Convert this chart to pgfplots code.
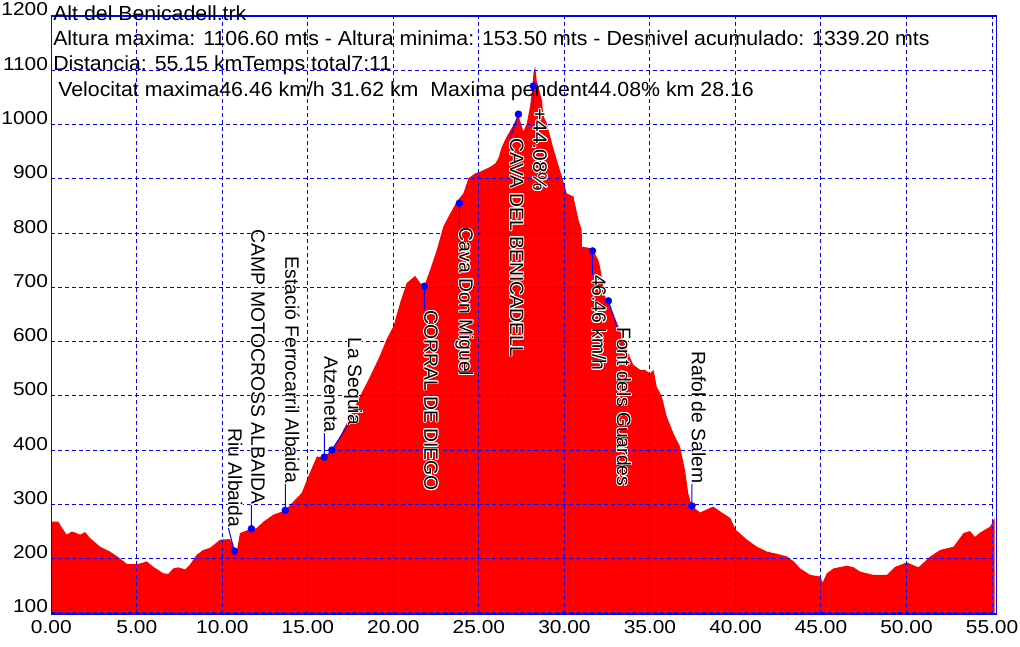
\documentclass[border=0pt]{standalone}
\usepackage{fontspec}
\setmainfont{Liberation Sans}
\usepackage{pgfplots}
\pgfplotsset{compat=1.18}
\usepackage{contour}
\contourlength{0.6pt}
\definecolor{profRed}{RGB}{255,0,0}
\definecolor{lineBlue}{RGB}{0,0,255}

% profile: distance (km) vs altitude (m)
\pgfplotstableread{
km elev
0.00 268
0.41 268
0.60 258
0.90 244
1.19 250
1.40 248
1.68 244
1.97 249
2.26 238
2.85 222
3.43 213
3.90 203
4.43 190
5.00 190
5.30 192
5.58 195
5.96 185
6.55 173
6.84 172
7.13 182
7.43 184
7.83 180
8.10 189
8.50 207
8.88 216
9.28 220
9.60 228
9.87 235
10.45 236
10.63 225
10.72 214
10.84 213
11.03 247
11.43 252
11.70 255
12.00 256
12.40 268
12.98 281
13.68 289
14.15 305
14.64 321
14.94 345
15.52 388
15.96 387
16.40 401
16.88 425
17.47 462
18.05 499
18.64 536
19.20 573
19.60 604
20.00 628
20.39 671
20.78 708
20.97 713
21.27 721
21.66 704
21.85 707
22.15 732
22.54 769
22.92 812
23.32 836
23.71 858
24.09 873
24.39 901
24.78 910
25.07 913
25.66 922
25.95 928
26.14 938
26.34 959
26.63 978
27.02 999
27.31 1017
27.60 987
27.80 1002
27.99 1033
28.10 1060
28.19 1095
28.29 1107
28.38 1080
28.48 1069
28.68 1045
28.77 1016
28.97 1002
29.06 991
29.36 955
29.85 904
30.14 873
30.53 867
30.82 824
31.01 806
31.02 775
31.59 772
31.98 750
32.08 738
32.37 683
32.76 658
33.25 621
33.73 578
34.03 557
34.42 548
34.71 548
35.00 541
35.20 548
35.29 535
35.39 517
35.69 499
35.98 462
36.37 431
36.76 406
37.05 363
37.24 320
37.45 297
37.93 285
38.70 296
39.10 287
39.69 275
40.02 253
40.67 235
41.25 222
41.84 213
42.42 209
43.01 204
43.40 195
43.78 182
44.37 170
44.95 167
45.10 156
45.34 173
45.73 182
46.51 187
46.90 184
47.29 176
48.07 170
48.85 170
49.34 185
50.02 193
50.70 184
51.39 204
51.97 216
52.75 222
53.33 247
53.70 251
54.00 240
54.30 248
54.89 259
55.15 275
}\profile

% waypoints
\pgfplotstableread{
km elev
10.70 214
11.70 255
13.68 289
15.96 387
16.40 400
21.81 702
23.86 855
27.31 1019
28.19 1071
31.64 767
32.57 675
37.45 297
}\waypoints

\begin{document}
\fontsize{14}{17}\selectfont
\begin{tikzpicture}
\path (0,0) rectangle (765pt,484.5pt);

% header text
\begin{scope}[every node/.style={anchor=base west, inner sep=0pt, xscale=1.045, font=\fontsize{15.3}{18}\selectfont}]
\node at (39.75pt,469pt) {Alt del Benicadell.trk};
\node at (39.75pt,450.2pt) {Altura maxima: 1106.60 mts - Altura minima: 153.50 mts - Desnivel acumulado: 1339.20 mts};
\node at (39.75pt,431.25pt) {Distancia: 55.15 kmTemps total7:11};
\node at (43.5pt,411.75pt) {Velocitat maxima46.46 km/h 31.62 km~~Maxima pendent44.08\% km 28.16};
\end{scope}

\begin{axis}[
    set layers=standard,
    at={(38.475pt,24pt)},
    anchor=south west,
    scale only axis,
    width=708.75pt,
    height=448.5pt,
    xmin=0, xmax=55.25,
    ymin=98, ymax=1200,
    xtick={0,5,...,55},
    ytick={100,200,...,1200},
    grid=major,
    grid style={lineBlue, line width=0.75pt, dash pattern=on 3pt off 2.25pt},
    axis line style={lineBlue, line width=1pt},
    tick style={draw=none},
    xticklabel style={anchor=north, inner sep=0pt, yshift=-4.5pt, xscale=1.12},
    yticklabel style={anchor=base east, inner sep=0pt, xshift=-2.25pt, xscale=1.12},
    x tick label style={/pgf/number format/.cd, fixed, fixed zerofill, precision=2},
    /pgf/number format/1000 sep={},
    /pgf/number format/assume math mode=true,
]

\addplot[fill=profRed, draw=none, on layer=axis background] table[x=km, y=elev] {\profile} \closedcycle;

% leader lines
\draw[lineBlue, line width=0.75pt]
    (axis cs:10.70,214) -- (axis cs:10.35,257)
    (axis cs:11.70,255) -- (axis cs:11.70,299)
    (axis cs:13.68,289) -- (axis cs:13.68,338)
    (axis cs:15.96,387) -- (axis cs:15.96,432)
    (axis cs:16.40,400) -- (axis cs:17.35,446)
    (axis cs:37.45,297) -- (axis cs:37.45,338)
    (axis cs:21.81,702) -- (axis cs:21.81,658)
    (axis cs:23.86,855) -- (axis cs:23.86,810)
    (axis cs:27.31,1019) -- (axis cs:26.82,975)
    (axis cs:28.19,1071) -- (axis cs:28.19,1030)
    (axis cs:31.64,767) -- (axis cs:31.64,723)
    (axis cs:32.57,675) -- (axis cs:33.08,627);

\addplot[only marks, mark=*, mark size=2.6pt, lineBlue, mark options={draw=none, fill=lineBlue}] table[x=km, y=elev] {\waypoints};

% labels above the point
\begin{scope}[every node/.style={rotate=-90, anchor=base east, inner sep=0pt, font=\fontsize{14.5}{17}\selectfont}]
\node at (axis cs:10.35,257) {\contour{white}{Riu Albaida}};
\node at (axis cs:11.70,299) {\contour{white}{CAMP MOTOCROSS ALBAIDA}};
\node at (axis cs:13.68,338) {\contour{white}{Estació Ferrocarril Albaida}};
\node at (axis cs:15.96,432) {\contour{white}{Atzeneta}};
\node at (axis cs:17.35,446) {\contour{white}{La Sequia}};
\node at (axis cs:37.45,338) {\contour{white}{Rafol de Salem}};
\end{scope}
% labels below the point
\begin{scope}[every node/.style={rotate=-90, anchor=base west, inner sep=0pt, font=\fontsize{14.5}{17}\selectfont}]
\node at (axis cs:21.81,658) {\contour{white}{CORRAL DE DIEGO}};
\node at (axis cs:23.86,810) {\contour{white}{Cava Don Miguel}};
\node at (axis cs:26.82,975) {\contour{white}{CAVA DEL BENICADELL}};
\node at (axis cs:28.19,1030) {\scalebox{1.08}[1]{\contour{white}{+44.08\%}}};
\node at (axis cs:31.64,723) {\contour{white}{46.46 km/h}};
\node at (axis cs:33.08,627) {\contour{white}{Font dels Guardes}};
\end{scope}
\end{axis}
\end{tikzpicture}
\end{document}
